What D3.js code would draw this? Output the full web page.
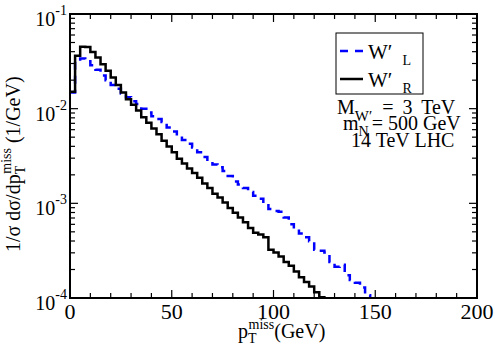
<!DOCTYPE html>
<html>
<head>
<meta charset="utf-8">
<script src="https://cdn.jsdelivr.net/npm/d3@7.9.0/dist/d3.min.js"></script>
<style>
  body { margin: 0; background: #fff; }
</style>
</head>
<body>
<svg id="chart" width="495" height="348"></svg>
<script>
// bin width of the histograms (GeV)
const binWidth = 2.5;

// normalised distribution, W'_L (blue dashed), one value per 2.5 GeV bin from 0
const wL = [0.0148, 0.0316, 0.0339, 0.0316, 0.0288, 0.0257, 0.0224, 0.0200, 0.0178, 0.0162,
  0.0145, 0.0132, 0.0120, 0.0112, 0.0100, 0.00912, 0.00832, 0.00776, 0.00724, 0.00631,
  0.00575, 0.00513, 0.00468, 0.00427, 0.00389, 0.00347, 0.00309, 0.00275, 0.00257, 0.00240,
  0.00219, 0.00195, 0.00170, 0.00158, 0.00145, 0.00132, 0.00120, 0.00112, 0.00100, 0.000871,
  0.000832, 0.000813, 0.000708, 0.000603, 0.000537, 0.000479, 0.000437, 0.000398, 0.000324, 0.000316,
  0.000302, 0.000240, 0.000214, 0.000224, 0.000174, 0.000155, 0.000145, 0.000129, 0.000107, 0.00005];

// normalised distribution, W'_R (black solid)
const wR = [0.0151, 0.0363, 0.0452, 0.0447, 0.0398, 0.0347, 0.0295, 0.0251, 0.0214, 0.0178,
  0.0148, 0.0126, 0.0110, 0.00955, 0.00813, 0.00708, 0.00617, 0.00537, 0.00457, 0.00398,
  0.00347, 0.00295, 0.00263, 0.00234, 0.00209, 0.00186, 0.00162, 0.00145, 0.00126, 0.00115,
  0.00102, 0.000891, 0.000794, 0.000708, 0.000631, 0.000550, 0.000490, 0.000468, 0.000437, 0.000324,
  0.000302, 0.000275, 0.000240, 0.000219, 0.000191, 0.000166, 0.000148, 0.000132, 0.000115, 0.000102,
  0.00005];

const xMajor = [0, 50, 100, 150, 200];
const yMajor = [1e-4, 1e-3, 1e-2, 1e-1];
const yExp = ["-4", "-3", "-2", "-1"];
const infoLines = ["= 3 TeV", "= 500 GeV", "14 TeV LHC"];

const svg = d3.select("#chart").style("font-family", '"Liberation Serif"');
const pl = 70, pr = 477, pt = 14, pb = 298;

const x = d3.scaleLinear().domain([0, 200]).range([pl, pr]);
const y = d3.scaleLog().domain([1e-4, 1e-1]).range([pb, pt]);

svg.append("clipPath").attr("id", "clip")
  .append("rect").attr("x", pl).attr("y", pt)
  .attr("width", pr - pl).attr("height", pb - pt);

// histogram as step line
function steps(vals) {
  const pts = vals.map((v, i) => [i * binWidth, v]);
  pts.push([vals.length * binWidth, vals[vals.length - 1]]);
  return pts;
}
const line = d3.line()
  .x(d => x(d[0]))
  .y(d => y(d[1]))
  .curve(d3.curveStepAfter);

const g = svg.append("g").attr("clip-path", "url(#clip)");
g.append("path").attr("d", line(steps(wL)))
  .attr("fill", "none").attr("stroke", "#0000ff")
  .attr("stroke-width", 2.5).attr("stroke-dasharray", "8,6");
g.append("path").attr("d", line(steps(wR)))
  .attr("fill", "none").attr("stroke", "#000")
  .attr("stroke-width", 2.5);

// frame
svg.append("rect").attr("x", pl).attr("y", pt)
  .attr("width", pr - pl).attr("height", pb - pt)
  .attr("fill", "none").attr("stroke", "#000").attr("stroke-width", 2);

// x ticks (inward, bottom and top)
const xMinor = d3.range(0, 201, 10);
const tk = svg.append("g").attr("stroke", "#000").attr("stroke-width", 1.2);
xMinor.forEach(v => {
  const len = v % 50 === 0 ? 8 : 5;
  tk.append("line").attr("x1", x(v)).attr("x2", x(v)).attr("y1", pb).attr("y2", pb - len);
  tk.append("line").attr("x1", x(v)).attr("x2", x(v)).attr("y1", pt).attr("y2", pt + len);
});

// y ticks (log, inward, left and right)
yMajor.forEach((d, k) => {
  [pl, pr].forEach(px => {
    const s = px === pl ? 1 : -1;
    tk.append("line").attr("x1", px).attr("x2", px + s * 8).attr("y1", y(d)).attr("y2", y(d));
    if (k < yMajor.length - 1) {
      for (let m = 2; m <= 9; m++) {
        tk.append("line").attr("x1", px).attr("x2", px + s * 5)
          .attr("y1", y(d * m)).attr("y2", y(d * m));
      }
    }
  });
});

// tick labels
svg.selectAll(".xl").data(xMajor).join("text")
  .attr("x", d => x(d)).attr("y", pb + 21)
  .attr("text-anchor", "middle").attr("font-size", 22)
  .text(d => d);

yMajor.forEach((d, k) => {
  const t = svg.append("text")
    .attr("x", pl - 3).attr("y", y(d) + 12)
    .attr("text-anchor", "end").attr("font-size", 20);
  t.append("tspan").text("10");
  t.append("tspan").attr("font-size", 14).attr("dy", -11).text(yExp[k]);
});

// axis titles
const xt = svg.append("text").attr("x", 238).attr("y", 338).attr("font-size", 20);
xt.append("tspan").text("p");
xt.append("tspan").attr("font-size", 14).attr("dy", 5).text("T");
xt.append("tspan").attr("font-size", 14).attr("dx", -8).attr("dy", -14).text("miss");
xt.append("tspan").attr("dy", 9).text("(GeV)");

const yt = svg.append("text")
  .attr("transform", "translate(20,252) rotate(-90)").attr("font-size", 20);
yt.append("tspan").text("1/σ dσ/dp");
yt.append("tspan").attr("font-size", 14).attr("dy", 5).text("T");
yt.append("tspan").attr("font-size", 14).attr("dx", -8).attr("dy", -14).text("miss");
yt.append("tspan").attr("dy", 9).text(" (1/GeV)");

// legend
svg.append("rect").attr("x", 336).attr("y", 33).attr("width", 87).attr("height", 61)
  .attr("fill", "#fff").attr("stroke", "#000").attr("stroke-width", 1);
const legend = [{ c: "#0000ff", dash: "8,7", sub: "L", yy: 51 },
                { c: "#000", dash: null, sub: "R", yy: 79 }];
legend.forEach(e => {
  svg.append("line").attr("x1", 340).attr("x2", 363).attr("y1", e.yy).attr("y2", e.yy)
    .attr("stroke", e.c).attr("stroke-width", 2.5).attr("stroke-dasharray", e.dash);
  const t = svg.append("text").attr("x", 368).attr("y", e.yy + 8).attr("font-size", 21);
  t.append("tspan").text("W\u2032");
  t.append("tspan").attr("font-size", 14).attr("dx", 10).attr("dy", 6).text(e.sub);
});

// annotation
const a1 = svg.append("text").attr("x", 337).attr("y", 114).attr("font-size", 20);
a1.append("tspan").text("M");
a1.append("tspan").attr("font-size", 15).attr("dy", 7).text("W\u2032");
a1.append("tspan").attr("dx", 10).attr("dy", -7).attr("word-spacing", 4).text(infoLines[0]);

const a2 = svg.append("text").attr("x", 343).attr("y", 130).attr("font-size", 20);
a2.append("tspan").text("m");
a2.append("tspan").attr("font-size", 14).attr("dy", 6).text("N");
a2.append("tspan").attr("dx", 3).attr("dy", -6).text(infoLines[1]);

svg.append("text").attr("x", 351).attr("y", 147).attr("font-size", 20).text(infoLines[2]);
</script>
</body>
</html>
